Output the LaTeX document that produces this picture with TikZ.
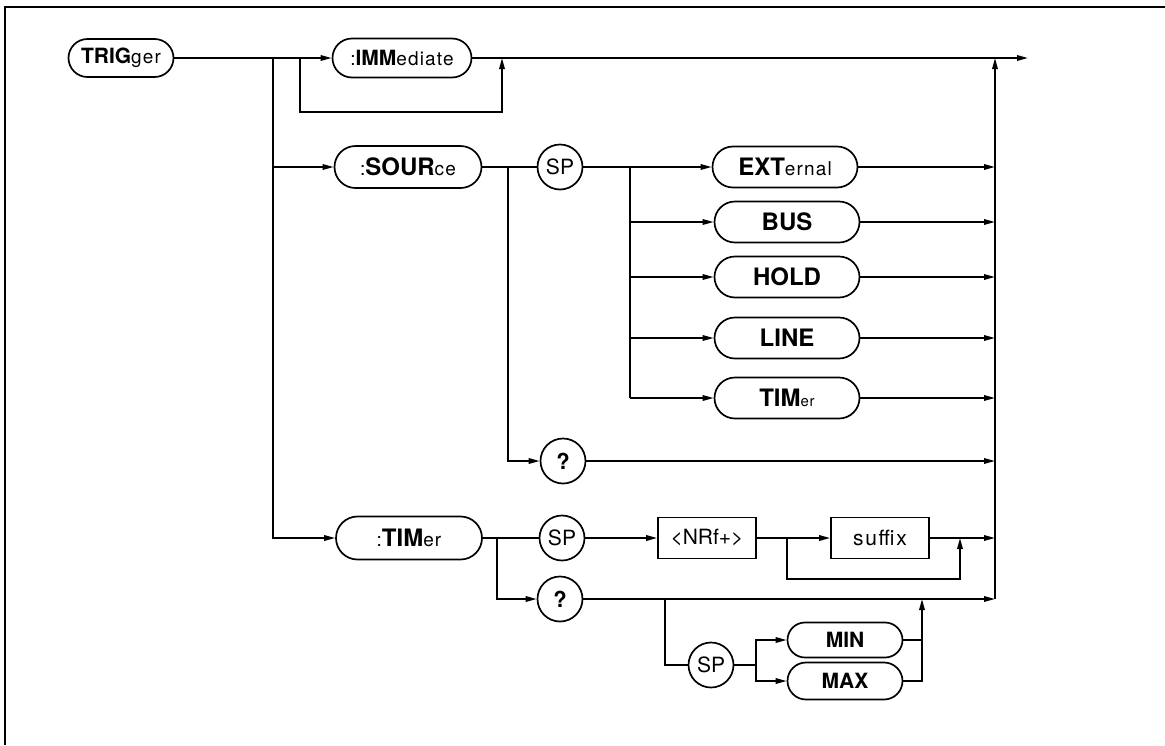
\documentclass[tikz,border=0pt]{standalone}
\usepackage{fontspec}
\setmainfont{TeX Gyre Heros}
\usetikzlibrary{shapes.misc,arrows.meta}
\newcommand\lw[1]{{\mdseries\fontsize{19pt}{19pt}\selectfont\addfontfeature{LetterSpace=6}#1}}
\newcommand\lws[1]{{\mdseries\fontsize{15pt}{15pt}\selectfont\addfontfeature{LetterSpace=5}#1}}
\tikzset{
  ln/.style={line width=1.7pt},
  arr/.style={line width=1.7pt,-{Triangle[length=11pt,width=5.5pt]}},
  pill/.style={draw,line width=1.7pt,rounded rectangle,inner sep=0pt,
    font=\fontsize{24pt}{24pt}\selectfont\bfseries},
  pillsm/.style={pill,font=\fontsize{21pt}{21pt}\selectfont\bfseries},
  opt/.style={pill,minimum width=145pt,minimum height=41pt},
  circ/.style={draw,circle,line width=1.7pt,minimum size=45pt,inner sep=0pt,
    font=\fontsize{21pt}{21pt}\selectfont},
  qcirc/.style={circ,font=\fontsize{22pt}{22pt}\selectfont\bfseries},
  boxn/.style={draw,rectangle,line width=1.7pt,minimum width=98pt,minimum height=41pt,
    inner sep=0pt,font=\fontsize{21pt}{21pt}\selectfont}
}
\begin{document}
\begin{tikzpicture}[x=1pt,y=-1pt]
\useasboundingbox (0,0) rectangle (1165,745);
\draw[line width=2pt] (1165,7) -- (5,7) -- (5,745);

% nodes
\node[pillsm,minimum width=105pt,minimum height=38pt] (trig) at (121,58) {TRIG\lw{ger}};
\node[pillsm,minimum width=139pt,minimum height=39pt] (imm) at (402,58) {\lw{:}IMM\lw{ediate}};
\node[pill,minimum width=147pt,minimum height=42pt] (src) at (408,167) {\lw{:}SOUR\lw{ce}};
\node[circ] (sp1) at (560,167) {SP};
\node[opt] (ext) at (785,167) {EXT\lw{ernal}};
\node[opt] (bus) at (787,222) {BUS};
\node[opt] (hold) at (787,277) {HOLD};
\node[opt] (line) at (787,338) {LINE};
\node[opt] (tim2) at (787,398) {TIM\lws{er}};
\node[qcirc] (q1) at (563,461) {?};
\node[pill,minimum width=146pt,minimum height=43pt] (tim) at (409,538) {\lw{:}TIM\lw{er}};
\node[circ] (sp2) at (562,538) {SP};
\node[boxn] (nrf) at (707,538) {<NRf+>};
\node[boxn] (suf) at (880,538) {\addfontfeature{LetterSpace=8}suffix};
\node[qcirc] (q2) at (560,599) {?};
\node[circ] (sp3) at (711,665) {SP};
\node[pillsm,minimum width=115pt,minimum height=35pt] (min) at (845,640) {MIN};
\node[pillsm,minimum width=115pt,minimum height=37pt] (max) at (845,681) {MAX};

% junction coordinates
\coordinate (ja) at (273,0);
\coordinate (jb) at (300,0);
\coordinate (jc) at (502,112);
\coordinate (out) at (1028,58);
\coordinate (col) at (995,0);
\coordinate (js) at (508,0);
\coordinate (jo) at (630,0);
\coordinate (jt) at (497,0);
\coordinate (jl) at (787,579);
\coordinate (jr) at (960,579);
\coordinate (jq) at (665,0);
\coordinate (jm) at (756,0);
\coordinate (jn) at (922,0);

% TRIGger level
\draw[arr] (trig.east) -- (imm.west);
\draw[arr] (trig.east -| ja) |- (tim.west);
\draw[arr] (src.west -| ja) -- (src.west);
\draw[arr] (imm.west -| jb) |- (jc) -- (jc |- imm.east);
\draw[arr] (imm.east) -- (out);
\draw[arr] (q2.east -| col) -- (out -| col);

% SOURce branch
\draw[ln] (src.east) -- (sp1.west);
\draw[arr] (sp1.east) -- (ext.west);
\draw[arr] (src.east -| js) |- (q1.west);
\draw[ln] (sp1.east -| jo) -- (tim2.west -| jo);
\foreach \n in {bus,hold,line,tim2} \draw[arr] (\n.west -| jo) -- (\n.west);
\foreach \n in {ext,bus,hold,line,tim2,q1} \draw[arr] (\n.east) -- (\n.east -| col);

% TIMer branch
\draw[ln] (tim.east) -- (sp2.west);
\draw[arr] (sp2.east) -- (nrf.west);
\draw[arr] (nrf.east) -- (suf.west);
\draw[arr] (nrf.east -| jl) |- (jr) -- (jr |- suf.east);
\draw[arr] (suf.east) -- (suf.east -| col);
\draw[arr] (tim.east -| jt) |- (q2.west);
\draw[arr] (q2.east) -- (q2.east -| col);
\draw[ln] (q2.east -| jq) |- (sp3.west);
\draw[ln] (sp3.east) -- (sp3.east -| jm);
\draw[arr] (sp3.east -| jm) |- (min.west);
\draw[arr] (sp3.east -| jm) |- (max.west);
\draw[ln] (min.east) -- (min.east -| jn);
\draw[arr] (max.east) -| (jn |- q2.east);
\end{tikzpicture}
\end{document}
